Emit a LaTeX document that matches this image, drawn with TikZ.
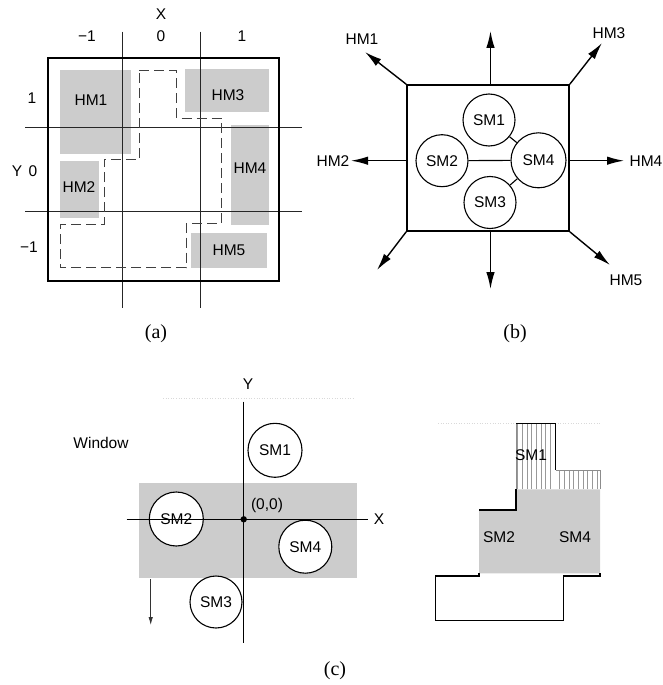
\documentclass[tikz,border=0pt]{standalone}
\usepackage{fontspec}
\setmainfont{Liberation Serif}
\setsansfont{Liberation Sans}
\usetikzlibrary{arrows.meta, positioning, calc}

\begin{document}
\begin{tikzpicture}[
    x=1pt, y=-1pt,
    font=\sffamily\fontsize{15.5}{18}\selectfont,
    caption/.style={font=\rmfamily\fontsize{20}{22}\selectfont},
    shade/.style={fill=black!20, draw=none},
    gridline/.style={line width=0.7pt, black!85},
    frame/.style={line width=1.6pt},
    route/.style={dash pattern=on 10pt off 5pt, line width=0.9pt, black!75},
    sm/.style={circle, draw, line width=1.1pt, fill=white, minimum size=52pt, inner sep=0pt},
    exit/.style={-{Latex[length=17pt, width=8.5pt]}, line width=1.4pt},
    axis/.style={line width=1.4pt},
    hatch/.style={black!40, line width=0.6pt},
    faint/.style={black!15, dotted, line width=0.6pt},
    stairs/.style={line width=1.3pt}
]
    \useasboundingbox (0,0) rectangle (662,685);

    % (a) host map
    \fill[shade] (60,70) rectangle (131,154);
    \fill[shade] (60,161) rectangle (99,218);
    \fill[shade] (185,69) rectangle (269,112);
    \fill[shade] (231,125) rectangle (269,225);
    \fill[shade] (191,233) rectangle (267,268);
    \foreach \gx in {122.7, 200.7}
        \draw[gridline] (\gx,31.7) -- (\gx,308);
    \foreach \gy in {127.3, 211.3}
        \draw[gridline] (25,\gy) -- (301.7,\gy);
    \draw[frame] (48,58) rectangle (279,281);
    \draw[route] (139.3,70.7) -- (176.7,70.7) -- (176.7,118.3) -- (221.7,118.3)
        -- (221.7,223.3) -- (186,223.3) -- (186,267.7) -- (60.3,267.7)
        -- (60.3,224.3) -- (104,224.3) -- (104,159.3) -- (139.3,159.3) -- cycle;

    \node (hm1a) at (91,100) {HM1};
    \node (hm2a) at (79,187) {HM2};
    \node (hm3a) at (228,95) {HM3};
    \node (hm4a) at (250,168) {HM4};
    \node (hm5a) at (229,250) {HM5};

    \node (xlab) at (161,14) {X};
    \node (xm) at (87,36) {−1};
    \node (xz) at (161,36) {0};
    \node (xp) at (242,36) {1};
    \node (yp) at (32,98) {1};
    \node (ylab) at (17,171) {Y};
    \node (yz) at (33,171) {0};
    \node (ym) at (29,247) {−1};
    \node[caption] (capa) at (156,334) {(a)};

    % (b) module graph
    \node[draw, line width=1.6pt, minimum width=162pt, minimum height=146pt] (box) at (488,158) {};
    \node[sm] (sm1b) at (489,120) {SM1};
    \node[sm] (sm2b) at (442,160.7) {SM2};
    \node[sm, minimum size=55pt] (sm4b) at (538.5,160.3) {SM4};
    \node[sm] (sm3b) at (490,202.5) {SM3};
    \draw[line width=1.1pt] (sm2b) -- (sm4b);
    \draw[line width=1.1pt] (sm1b) -- (sm4b);
    \draw[line width=1.1pt] (sm3b) -- (sm4b);

    \coordinate (up) at (490.5,31);
    \coordinate (down) at (490.5,289);
    \coordinate (left) at (351,160.7);
    \coordinate (right) at (624,160.7);
    \coordinate (ul) at (365,52);
    \coordinate (ur) at (602,43);
    \coordinate (dl) at (377,270);
    \coordinate (dr) at (610,265);
    \draw[exit] (box.north -| up) -- (up);
    \draw[exit] (box.south -| down) -- (down);
    \draw[exit] (box.west |- left) -- (left);
    \draw[exit] (box.east |- right) -- (right);
    \draw[exit] (box.north west) -- (ul);
    \draw[exit] (box.north east) -- (ur);
    \draw[exit] (box.south west) -- (dl);
    \draw[exit] (box.south east) -- (dr);

    \node (hm1b) at (362,39) {HM1};
    \node (hm2b) at (333,161) {HM2};
    \node (hm3b) at (609,33) {HM3};
    \node (hm4b) at (646,160.7) {HM4};
    \node (hm5b) at (626,280) {HM5};
    \node[caption] (capb) at (515,334) {(b)};

    % (c) window on the modules
    \draw[faint] (163,398.5) -- (353,398.5);
    \fill[shade] (139,482.7) rectangle (356.5,577.7);
    \draw[axis] (243.7,401.7) -- (243.7,642.7);
    \node[sm, minimum size=54pt] (sm1c) at (275,450.3) {SM1};
    \node[sm, minimum size=54pt] (sm2c) at (176.3,519) {SM2};
    \node[sm, minimum size=53pt] (sm4c) at (305.3,546.7) {SM4};
    \node[sm, minimum size=52pt] (sm3c) at (216,602) {SM3};
    \draw[axis] (126.7,519.3) -- (368.3,519.3);
    \fill (243.7,519.3) circle (3.2pt);
    \node (ylabc) at (248,384) {Y};
    \node (xlabc) at (379,519.3) {X};
    \node (origin) at (267,505) {(0,0)};
    \node (window) at (101,442.7) {Window};
    \coordinate (scroll top) at (150.7,579);
    \coordinate (scroll end) at (150.7,625);
    \draw[-{Latex[length=8pt, width=4.5pt]}, line width=0.8pt, black!80] (scroll top) -- (scroll end);

    % (c) what is shown
    \draw[faint] (438,423.3) -- (600,423.3);
    \fill[shade] (516,489.3) -- (600,489.3) -- (600,573.3) -- (479,573.3)
        -- (479,510) -- (516,510) -- cycle;
    \foreach \hx in {517.5, 522.2, ..., 555}
        \draw[hatch] (\hx,423.3) -- (\hx,489.3);
    \foreach \hx in {559.5, 564.2, ..., 600}
        \draw[hatch] (\hx,470) -- (\hx,489.3);
    \draw[black!45, line width=0.7pt] (516,489.3) -- (516,423.3);
    \draw[black!45, line width=0.7pt] (555.7,470) -- (600,470) -- (600,489.3);
    \draw[stairs] (516,423.3) -- (555.7,423.3) -- (555.7,470);
    \draw[stairs] (516,489.3) -- (516,510) -- (479,510);
    \draw[stairs] (479,573.3) -- (479,576) -- (435.7,576) -- (435.7,620.7)
        -- (563.3,620.7) -- (563.3,576) -- (600,576) -- (600,573.3);
    \node (sm1d) at (531,455) {SM1};
    \node (sm2d) at (499,536.7) {SM2};
    \node (sm4d) at (575,536.7) {SM4};

    \node[caption] (capc) at (335,671) {(c)};
\end{tikzpicture}
\end{document}
